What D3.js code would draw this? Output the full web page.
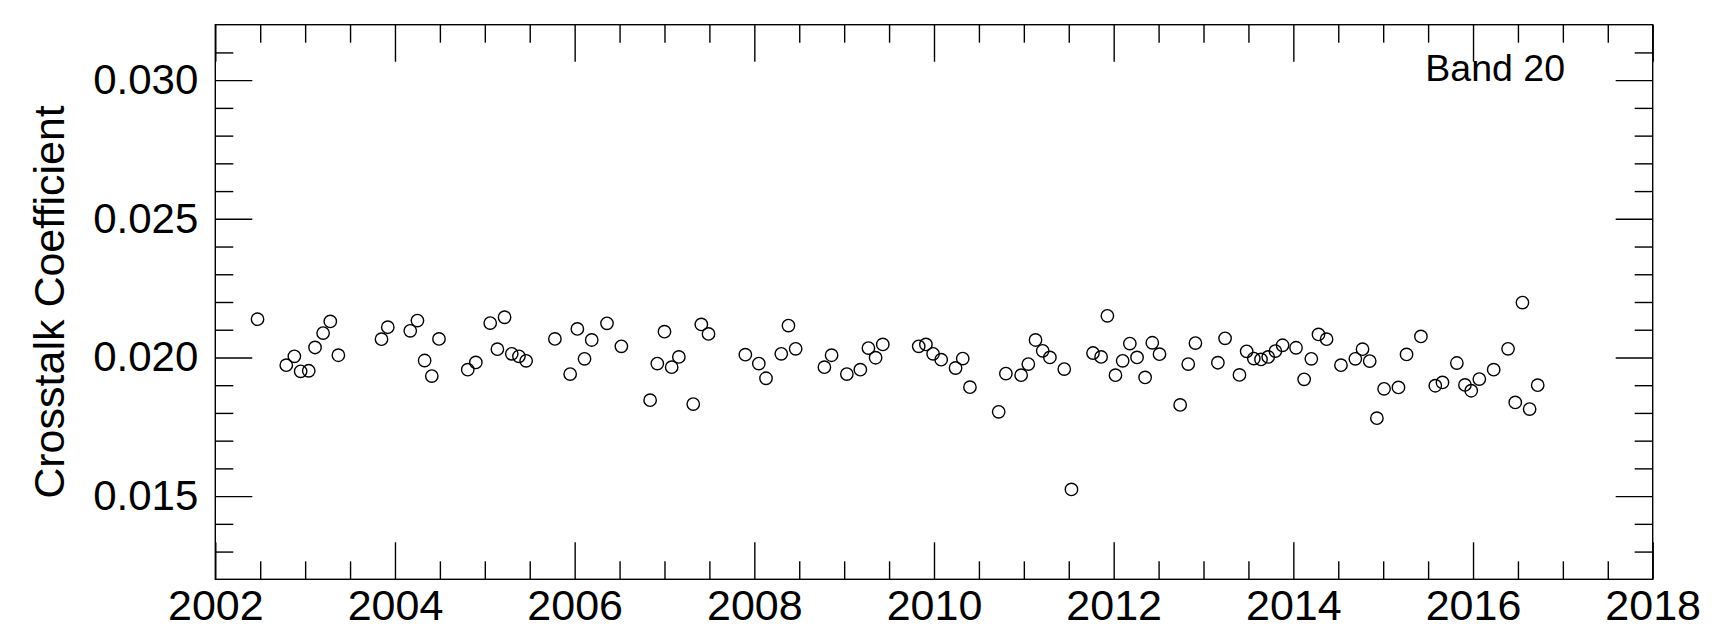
<!DOCTYPE html>
<html lang="en"><head>
<meta charset="utf-8">
<title>Band 20 Crosstalk Coefficient</title>
<script src="https://cdn.jsdelivr.net/npm/d3@7/dist/d3.min.js"></script>
<style>
body { margin: 0; background: #fff; }
svg text { font-family: "Liberation Sans", Arial, Helvetica, sans-serif; fill: #000; }
.axis path { display: none; }
.axis line { stroke: #000; stroke-width: 1.4px; }
</style>
</head>
<body>
<script>
// data
var epoch = [
  2002.47, 2002.79, 2002.88, 2002.95, 2003.04, 2003.11, 2003.20, 2003.28, 2003.37,
  2003.85, 2003.92, 2004.17, 2004.25, 2004.33, 2004.41, 2004.49,
  2004.81, 2004.90, 2005.06, 2005.14, 2005.22, 2005.30, 2005.38, 2005.46,
  2005.78, 2005.95, 2006.03, 2006.11, 2006.19, 2006.36, 2006.52,
  2006.84, 2006.92, 2007.00, 2007.08, 2007.16, 2007.32, 2007.41, 2007.49,
  2007.90, 2008.05, 2008.13, 2008.30, 2008.38, 2008.46,
  2008.78, 2008.86, 2009.03, 2009.18, 2009.27, 2009.35, 2009.43,
  2009.83, 2009.91, 2009.99, 2010.08, 2010.24, 2010.32, 2010.40,
  2010.72, 2010.80, 2010.97, 2011.05, 2011.13, 2011.21, 2011.29, 2011.45, 2011.53,
  2011.77, 2011.86, 2011.93, 2012.02, 2012.10, 2012.18, 2012.26, 2012.35, 2012.43, 2012.51,
  2012.74, 2012.83, 2012.91, 2013.16, 2013.24, 2013.40, 2013.48, 2013.56, 2013.64, 2013.72,
  2013.80, 2013.88, 2014.03, 2014.12, 2014.20, 2014.28, 2014.37,
  2014.53, 2014.69, 2014.77, 2014.85, 2014.93, 2015.01, 2015.17, 2015.26, 2015.42,
  2015.58, 2015.66, 2015.82, 2015.91, 2015.98, 2016.07, 2016.23, 2016.39, 2016.47,
  2016.55, 2016.63, 2016.72
];
var crosstalk = [
  0.02138, 0.01972, 0.02004, 0.01950, 0.01952, 0.02036, 0.02088, 0.02130, 0.02008,
  0.02066, 0.02109, 0.02096, 0.02133, 0.01989, 0.01933, 0.02067,
  0.01956, 0.01982, 0.02124, 0.02030, 0.02145, 0.02013, 0.02004, 0.01988,
  0.02067, 0.01940, 0.02103, 0.01995, 0.02063, 0.02123, 0.02040,
  0.01846, 0.01978, 0.02093, 0.01965, 0.02002, 0.01832, 0.02119, 0.02085,
  0.02010, 0.01978, 0.01925, 0.02013, 0.02115, 0.02031,
  0.01965, 0.02008, 0.01940, 0.01956, 0.02034, 0.01999, 0.02047,
  0.02040, 0.02047, 0.02013, 0.01992, 0.01962, 0.01996, 0.01893,
  0.01804, 0.01942, 0.01936, 0.01976, 0.02063, 0.02024, 0.02000, 0.01958, 0.01524,
  0.02016, 0.02002, 0.02150, 0.01936, 0.01988, 0.02050, 0.02000, 0.01928, 0.02053, 0.02012,
  0.01829, 0.01976, 0.02052, 0.01981, 0.02069, 0.01937, 0.02022, 0.01996, 0.01993, 0.02002,
  0.02023, 0.02044, 0.02035, 0.01921, 0.01995, 0.02083, 0.02066,
  0.01972, 0.01995, 0.02030, 0.01987, 0.01781, 0.01887, 0.01892, 0.02011, 0.02076,
  0.01898, 0.01910, 0.01980, 0.01901, 0.01880, 0.01922, 0.01956, 0.02031, 0.01838,
  0.02198, 0.01814, 0.01900
];

var xMajor = [2002, 2004, 2006, 2008, 2010, 2012, 2014, 2016, 2018];
var xMinor = [2002.5, 2003, 2003.5, 2004.5, 2005, 2005.5, 2006.5, 2007, 2007.5, 2008.5, 2009, 2009.5,
              2010.5, 2011, 2011.5, 2012.5, 2013, 2013.5, 2014.5, 2015, 2015.5, 2016.5, 2017, 2017.5];
var yMajor = [0.015, 0.020, 0.025, 0.030];
var yMinor = [0.013, 0.014, 0.016, 0.017, 0.018, 0.019, 0.021, 0.022, 0.023, 0.024,
              0.026, 0.027, 0.028, 0.029, 0.031];

var width = 1725, height = 632;
var box = {left: 215.3, right: 1652.7, top: 24.7, bottom: 579.3};
var bigTick = 37, smallTick = 18;

var svg = d3.select("body").append("svg").attr("width", width).attr("height", height);

var x = d3.scaleLinear().domain([2002, 2018]).range([box.left, box.right]);
var y = d3.scaleLinear().domain([0.012, 0.032]).range([box.bottom, box.top]);

// bottom
svg.append("g").attr("class", "axis").attr("transform", "translate(0," + box.bottom + ")")
  .call(d3.axisBottom(x).tickValues(xMajor).tickSize(-bigTick).tickSizeOuter(0).tickPadding(10).tickFormat(d3.format("d")))
  .call(g => g.selectAll("text").attr("font-size", 43));
svg.append("g").attr("class", "axis").attr("transform", "translate(0," + box.bottom + ")")
  .call(d3.axisBottom(x).tickValues(xMinor).tickSize(-smallTick).tickSizeOuter(0).tickFormat(""));
// top
svg.append("g").attr("class", "axis").attr("transform", "translate(0," + box.top + ")")
  .call(d3.axisTop(x).tickValues(xMajor).tickSize(-bigTick).tickSizeOuter(0).tickFormat(""));
svg.append("g").attr("class", "axis").attr("transform", "translate(0," + box.top + ")")
  .call(d3.axisTop(x).tickValues(xMinor).tickSize(-smallTick).tickSizeOuter(0).tickFormat(""));
// left
svg.append("g").attr("class", "axis").attr("transform", "translate(" + box.left + ",0)")
  .call(d3.axisLeft(y).tickValues(yMajor).tickSize(-bigTick).tickSizeOuter(0).tickPadding(17).tickFormat(d3.format(".3f")))
  .call(g => g.selectAll("text").attr("font-size", 42));
svg.append("g").attr("class", "axis").attr("transform", "translate(" + box.left + ",0)")
  .call(d3.axisLeft(y).tickValues(yMinor).tickSize(-smallTick).tickSizeOuter(0).tickFormat(""));
// right
svg.append("g").attr("class", "axis").attr("transform", "translate(" + box.right + ",0)")
  .call(d3.axisRight(y).tickValues(yMajor).tickSize(-bigTick).tickSizeOuter(0).tickFormat(""));
svg.append("g").attr("class", "axis").attr("transform", "translate(" + box.right + ",0)")
  .call(d3.axisRight(y).tickValues(yMinor).tickSize(-smallTick).tickSizeOuter(0).tickFormat(""));

svg.append("rect")
  .attr("x", box.left).attr("y", box.top)
  .attr("width", box.right - box.left).attr("height", box.bottom - box.top)
  .attr("fill", "none").attr("stroke", "#000").attr("stroke-width", 1.4);

svg.selectAll("circle.pt").data(epoch).enter().append("circle")
  .attr("class", "pt")
  .attr("cx", d => x(d))
  .attr("cy", (d, i) => y(crosstalk[i]))
  .attr("r", 6.2)
  .attr("fill", "none").attr("stroke", "#000").attr("stroke-width", 1.4);

svg.append("text")
  .attr("transform", "translate(64," + ((box.top + box.bottom) / 2) + ") rotate(-90)")
  .attr("text-anchor", "middle")
  .attr("font-size", 43)
  .text("Crosstalk Coefficient");

svg.append("text")
  .attr("x", 1565).attr("y", 81)
  .attr("text-anchor", "end")
  .attr("font-size", 37.5)
  .text("Band 20");
</script>
</body>
</html>
